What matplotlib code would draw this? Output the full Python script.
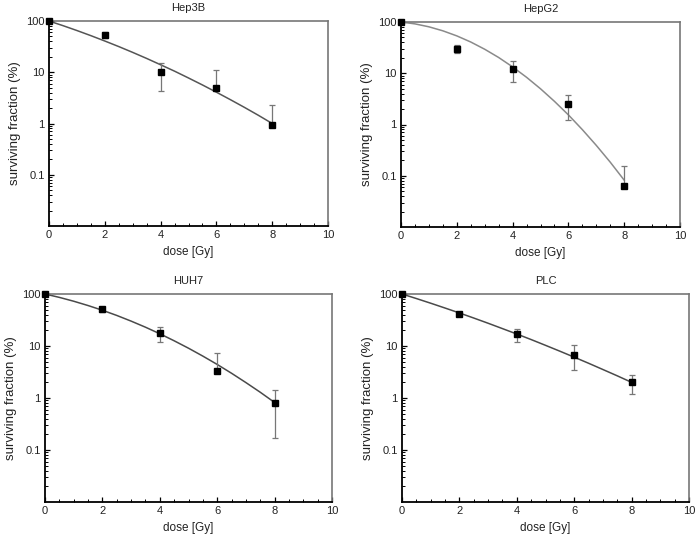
import matplotlib
matplotlib.use("Agg")
import matplotlib.pyplot as plt
from matplotlib.ticker import LogLocator, FixedLocator, NullFormatter, MultipleLocator

# measured points: dose, surviving fraction (%), error up / down (absolute bounds)
dose = [0, 2, 4, 6, 8]

hep3b_sf = [100, 54, 10, 5.0, 0.92]
hep3b_hi = [100, 60, 15.2, 11.3, 2.3]
hep3b_lo = [100, 46, 4.4, 5.0, 0.92]

hepg2_sf = [100, 30, 12, 2.5, 0.062]
hepg2_hi = [100, 36, 17.4, 3.8, 0.155]
hepg2_lo = [100, 25, 6.7, 1.2, 0.062]

huh7_sf = [100, 51, 17.7, 3.35, 0.8]
huh7_hi = [100, 57, 23, 7.4, 1.43]
huh7_lo = [100, 45, 12.2, 3.35, 0.172]

plc_sf = [100, 42, 16.7, 6.8, 2.0]
plc_hi = [100, 46, 21, 10.3, 2.8]
plc_lo = [100, 38, 12.1, 3.4, 1.17]

# fitted curves every 0.5 Gy
fit_dose = [0, 0.5, 1, 1.5, 2, 2.5, 3, 3.5, 4, 4.5, 5, 5.5, 6, 6.5, 7, 7.5, 8]
hep3b_fit = [100, 81.2, 65.2, 51.8, 40.7, 31.7, 24.4, 18.6, 14.0, 10.5, 7.73,
             5.65, 4.08, 2.92, 2.07, 1.45, 1.00]
hepg2_fit = [100, 91.9, 80.6, 67.3, 53.6, 40.7, 29.4, 20.3, 13.3, 8.34, 4.98,
             2.83, 1.54, 0.794, 0.391, 0.184, 0.082]
huh7_fit = [100, 86.1, 72.6, 60.0, 48.7, 38.7, 30.1, 23.0, 17.2, 12.6, 9.07,
            6.39, 4.42, 2.99, 1.98, 1.29, 0.82]
plc_fit = [100, 81.8, 66.5, 53.7, 43.2, 34.5, 27.4, 21.6, 17.0, 13.3, 10.3,
           7.95, 6.10, 4.66, 3.53, 2.67, 2.00]

panels = [
    ("Hep3B", hep3b_sf, hep3b_hi, hep3b_lo, hep3b_fit, "#555555",
     [49 / 697, 315 / 541, 279 / 697, 205 / 541]),
    ("HepG2", hepg2_sf, hepg2_hi, hepg2_lo, hepg2_fit, "#8a8a8a",
     [401 / 697, 314 / 541, 279 / 697, 205 / 541]),
    ("HUH7", huh7_sf, huh7_hi, huh7_lo, huh7_fit, "#4a4a4a",
     [45 / 697, 39 / 541, 287 / 697, 208 / 541]),
    ("PLC", plc_sf, plc_hi, plc_lo, plc_fit, "#4a4a4a",
     [402 / 697, 39 / 541, 287 / 697, 208 / 541]),
]

plt.rcParams["font.family"] = ["Liberation Sans", "DejaVu Sans"]

fig = plt.figure(figsize=(6.97, 5.41), dpi=100)

for title, sf, hi, lo, fit, fit_color, rect in panels:
    ax = fig.add_axes(rect)
    ax.plot(fit_dose, fit, color=fit_color, lw=1.1, zorder=2)
    yerr = [[s - l for s, l in zip(sf, lo)], [h - s for s, h in zip(sf, hi)]]
    ax.errorbar(dose, sf, yerr=yerr, fmt="none", ecolor="#777777",
                elinewidth=0.9, capsize=2.5, capthick=0.9, zorder=3)
    ax.plot(dose, sf, "s", color="black", ms=4.5, zorder=4, clip_on=False)

    ax.set_yscale("log")
    ax.set_xlim(0, 10)
    ax.set_ylim(0.01, 100)
    ax.yaxis.set_major_locator(FixedLocator([0.1, 1, 10, 100]))
    ax.yaxis.set_major_formatter(plt.FuncFormatter(lambda v, p: f"{v:g}"))
    ax.yaxis.set_minor_locator(LogLocator(base=10, subs=range(2, 10), numticks=20))
    ax.yaxis.set_minor_formatter(NullFormatter())
    ax.xaxis.set_major_locator(MultipleLocator(2))
    ax.xaxis.set_minor_locator(MultipleLocator(0.5))

    ax.tick_params(which="both", direction="in", top=False, right=False,
                   labelsize=8, pad=3, color="black", labelcolor="#222222")
    ax.tick_params(which="major", length=3.5, width=0.9)
    ax.tick_params(which="minor", length=2, width=0.7)

    ax.spines["left"].set_linewidth(1.3)
    ax.spines["bottom"].set_linewidth(1.3)
    ax.spines["top"].set_color("#777777")
    ax.spines["right"].set_color("#777777")
    ax.spines["top"].set_linewidth(1.2)
    ax.spines["right"].set_linewidth(1.2)

    ax.set_title(title, fontsize=8, pad=7, color="#222222")
    ax.set_xlabel("dose [Gy]", fontsize=8.5, labelpad=4, color="#222222")
    ax.set_ylabel("surviving fraction (%)", fontsize=9.5, labelpad=4,
                  color="#222222")

fig.savefig("out.png", dpi=100)
